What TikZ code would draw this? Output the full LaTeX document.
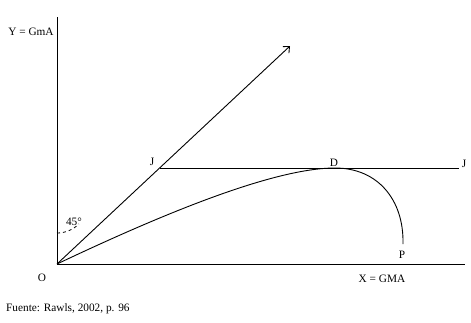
\documentclass[tikz,border=0pt]{standalone}
\usepackage{fontspec}
\setmainfont{Liberation Serif}
\usetikzlibrary{arrows.meta}

\begin{document}
\begin{tikzpicture}[
  x=1pt, y=-1pt,
  font=\fontsize{11.3}{13}\selectfont,
  ln/.style={line width=0.9pt},
  lb/.style={inner sep=1pt}
]
  \useasboundingbox (0,0) rectangle (471,322);
  \coordinate (O)  at (57,264);
  \coordinate (ya) at (57,17);
  \coordinate (xa) at (465,264);
  \coordinate (t)  at (290,46);
  \coordinate (j1) at (160,168);
  \coordinate (j2) at (459,168);
  \coordinate (d)  at (335,168);
  \coordinate (p)  at (403,244);
  % axes
  \draw[ln] (ya) -- (O) -- (xa);
  \draw[ln, -{Straight Barb[length=5pt,width=9pt]}] (O) -- (t);
  \draw[ln] (j1) -- (j2);
  \draw[ln] (O) .. controls (150,220) and (270,168) .. (d)
            .. controls (378,168) and (404,200) .. (p);
  \draw[dashed, line width=0.8pt] (57,233) arc[start angle=90, end angle=45, radius=31];
  % labels
  \node[lb] (ly)  at (31,32)   {Y = GmA};
  \node[lb] (lo)  at (42,278)  {O};
  \node[lb] (lx)  at (382,279) {X = GMA};
  \node[lb] (l45) at (74,222)  {45°};
  \node[lb] (lj1) at (152,162) {J};
  \node[lb] (lj2) at (464,164) {J};
  \node[lb] (ld)  at (334,163) {D};
  \node[lb] (lp)  at (402,255) {P};
  \node[lb, anchor=west] (src) at (5,309) {Fuente: Rawls, 2002, p. 96};
\end{tikzpicture}
\end{document}
